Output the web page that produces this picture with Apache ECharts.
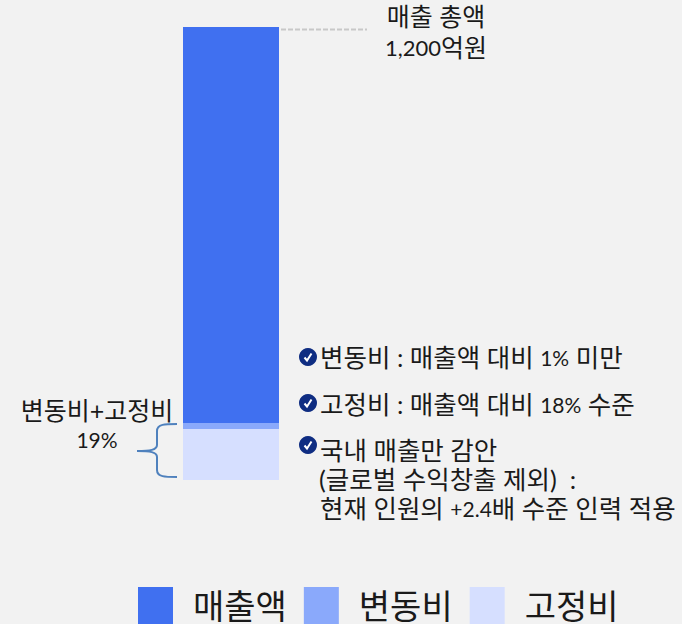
<!DOCTYPE html>
<html>
<head>
<meta charset="utf-8">
<style>
  html, body { margin: 0; padding: 0; background: #f2f2f2; }
  #chart { width: 682px; height: 624px; }
</style>
<script src="https://cdn.jsdelivr.net/npm/echarts@6/dist/echarts.min.js"></script>
</head>
<body>
<div id="chart"></div>
<script>
var categories = ['매출'];
var fixedCost = [135];
var variableCost = [16];
var revenue = [1049];
var seriesNames = ['매출액', '변동비', '고정비'];
var totalLabel = ['매출 총액', '1,200억원'];
var shareLabel = ['변동비+고정비', '19%'];
var notes = [
  '변동비 : 매출액 대비 1% 미만',
  '고정비 : 매출액 대비 18% 수준',
  '국내 매출만 감안',
  '(글로벌 수익창출 제외)  :',
  '현재 인원의 +2.4배 수준 인력 적용'
];

var font = "Lato, 'Noto Sans CJK KR', sans-serif";
var ink = '#1a1a1a';
var braceColor = '#4f81bd';

// hangul runs stay at full size, digit runs are drawn smaller like the source
function label(x, y, str, size, align, digitSize) {
  var style = {
    fill: ink,
    font: size + 'px ' + font,
    align: align || 'left',
    verticalAlign: 'middle'
  };
  if (digitSize) {
    style.text = str.replace(/[+0-9.,%]+/g, function(s) { return '{d|' + s + '}'; });
    style.rich = { d: { font: digitSize + 'px ' + font, fill: ink } };
  } else {
    style.text = str;
  }
  return { type: 'text', x: x, y: y, style: style };
}

function check(x, y) {
  return {
    type: 'group',
    x: x,
    y: y,
    children: [
      { type: 'circle', shape: { cx: 0, cy: 0, r: 9 }, style: { fill: '#0f2d82' } },
      {
        type: 'polyline',
        shape: { points: [[-3.5, 0.5], [-1, 3.5], [3.5, -3.5]] },
        style: { stroke: '#fff', lineWidth: 2, fill: null }
      }
    ]
  };
}

function braceCurve(x1, y1, cpx1, cpy1, cpx2, cpy2, x2, y2) {
  return {
    type: 'bezierCurve',
    shape: { x1: x1, y1: y1, cpx1: cpx1, cpy1: cpy1, cpx2: cpx2, cpy2: cpy2, x2: x2, y2: y2 },
    style: { stroke: braceColor, lineWidth: 2, fill: null }
  };
}

function braceLine(x1, y1, x2, y2) {
  return {
    type: 'line',
    shape: { x1: x1, y1: y1, x2: x2, y2: y2 },
    style: { stroke: braceColor, lineWidth: 2 }
  };
}

var chart = echarts.init(document.getElementById('chart'), null, { renderer: 'svg' });
chart.setOption({
  animation: false,
  backgroundColor: '#f2f2f2',
  legend: {
    data: seriesNames,
    left: 138,
    top: 587,
    padding: 0,
    itemWidth: 35,
    itemHeight: 37,
    itemGap: 17,
    icon: 'rect',
    textStyle: {
      fontFamily: font,
      fontSize: 34,
      lineHeight: 30,
      color: ink,
      padding: [0, 0, 4, 15]
    }
  },
  grid: { left: 183, top: 27, width: 96, height: 453 },
  xAxis: { type: 'category', data: categories, show: false },
  yAxis: { type: 'value', min: 0, max: 1200, show: false },
  series: [
    { name: '고정비', type: 'bar', stack: 'total', barWidth: '100%', data: fixedCost, itemStyle: { color: '#d6dfff' } },
    { name: '변동비', type: 'bar', stack: 'total', data: variableCost, itemStyle: { color: '#8aa9fb' } },
    { name: '매출액', type: 'bar', stack: 'total', data: revenue, itemStyle: { color: '#4070f0' } }
  ],
  graphic: [
    {
      type: 'line',
      shape: { x1: 281, y1: 29.5, x2: 367, y2: 29.5 },
      style: { stroke: '#c8c8c8', lineWidth: 2, lineDash: [5, 2] }
    },
    label(436, 16, totalLabel[0], 25, 'center'),
    label(436, 47, totalLabel[1], 25, 'center', 22),
    label(97, 410, shareLabel[0], 25, 'center'),
    label(97, 439, shareLabel[1], 21, 'center'),
    braceCurve(177, 424, 165, 424, 157, 424, 157, 431),
    braceLine(157, 431, 157, 445),
    braceCurve(157, 445, 157, 450, 150, 451, 137, 451),
    braceCurve(137, 451, 150, 451, 157, 452, 157, 457),
    braceLine(157, 457, 157, 470),
    braceCurve(157, 470, 157, 477, 165, 477, 177, 477),
    check(308, 357),
    check(308, 403),
    check(308, 445),
    label(320, 357, notes[0], 25.5, 'left', 21),
    label(320, 404, notes[1], 25.5, 'left', 21),
    label(320, 450, notes[2], 25.5, 'left', 21),
    label(319, 479, notes[3], 25.5, 'left', 21),
    label(320, 508, notes[4], 25.5, 'left', 21)
  ]
});
</script>
</body>
</html>
